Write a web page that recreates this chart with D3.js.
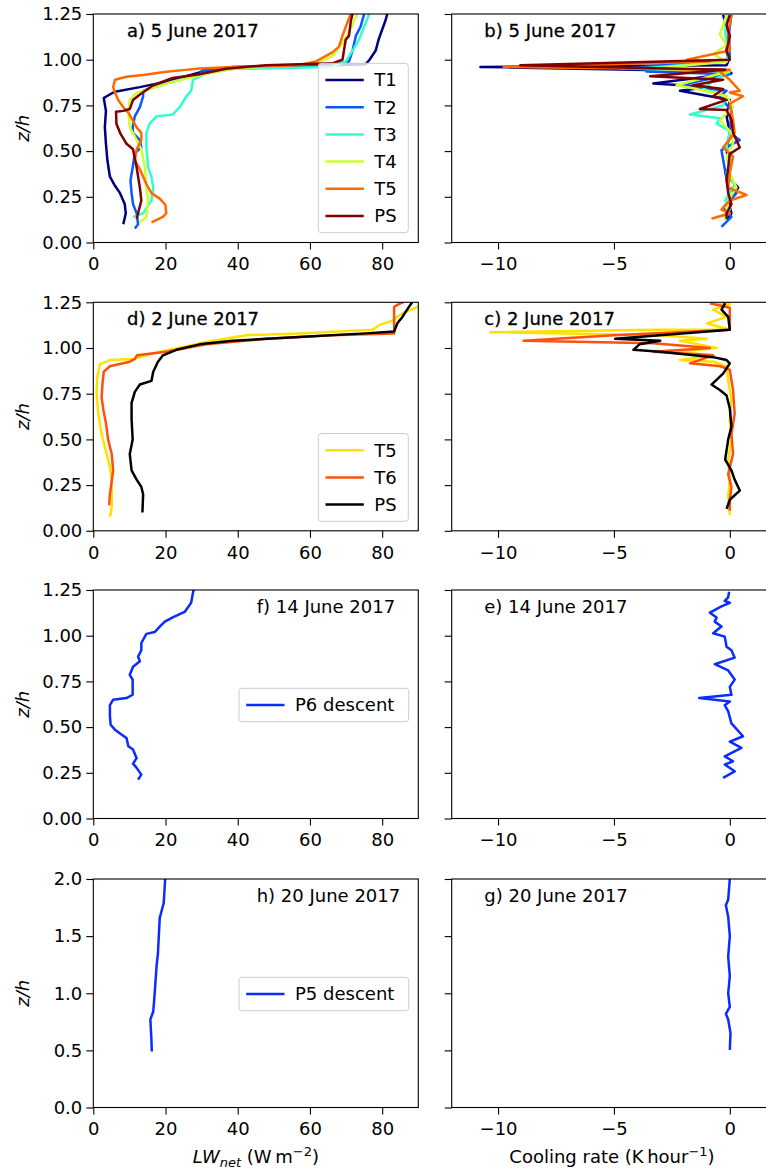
<!DOCTYPE html>
<html>
<head>
<meta charset="utf-8">
<script src="https://cdn.jsdelivr.net/npm/d3@7"></script>
<style>
  body { margin: 0; background: #fff; }
  svg { display: block; }
  text { font-family: "DejaVu Sans", sans-serif; fill: #000; }
</style>
</head>
<body>
<div id="chart"></div>
<script>
// ---- data: [value, z/h] pairs ----

// a) 5 June 2017, LW net
const lw5_T1 = [[8.3,0.10],[9.0,0.16],[8.7,0.21],[7.4,0.27],[6.0,0.31],[4.6,0.36],[3.9,0.45],[3.5,0.54],[3.2,0.63],[3.5,0.72],[2.9,0.79],[3.7,0.80],[6.0,0.825],[12.9,0.85],[20.2,0.88],[29.4,0.93],[30.4,0.94],[38.6,0.96],[60,0.965],[75.4,0.975],[76.5,1.0],[78.2,1.05],[79,1.11],[81,1.22],[81.4,1.25]];
const lw5_T2 = [[11.5,0.077],[12.4,0.10],[12,0.16],[11,0.21],[10.6,0.27],[10.3,0.34],[10.9,0.41],[11.5,0.49],[13.3,0.52],[12.9,0.56],[11,0.60],[10.9,0.63],[11.5,0.69],[12.9,0.74],[13.8,0.80],[13.8,0.83],[20,0.87],[29.4,0.92],[30.4,0.94],[38.6,0.95],[66,0.97],[70.8,0.99],[71.8,1.05],[72.7,1.13],[74,1.18],[75,1.25]];
const lw5_T3 = [[11,0.14],[13.8,0.16],[16.1,0.23],[16.6,0.30],[16.1,0.36],[15.2,0.41],[14.7,0.52],[14.7,0.60],[15.6,0.65],[17.5,0.69],[22,0.70],[23.9,0.74],[25.8,0.80],[27.1,0.83],[27.6,0.89],[31.3,0.925],[38.6,0.95],[66,0.96],[69.9,0.99],[71.8,1.05],[73.6,1.11],[75,1.18],[76.4,1.25]];
const lw5_T4 = [[12.9,0.11],[14.7,0.14],[15.2,0.23],[14.7,0.30],[14.3,0.41],[13.3,0.51],[11.5,0.58],[10.1,0.63],[9.7,0.72],[10.1,0.78],[12,0.82],[15.6,0.84],[22,0.88],[33,0.93],[38.6,0.95],[61.6,0.98],[66.2,1.02],[69,1.09],[70.8,1.15],[73.1,1.25]];
const lw5_T5 = [[16.1,0.11],[19.3,0.14],[20.2,0.16],[20,0.205],[18.4,0.24],[16.1,0.27],[14.7,0.32],[12.9,0.40],[11.5,0.45],[12,0.51],[13.3,0.56],[13.3,0.60],[12,0.63],[9.7,0.71],[8.3,0.74],[6.9,0.78],[6,0.82],[5.5,0.85],[6,0.89],[9.2,0.907],[13.8,0.916],[20.2,0.934],[24.8,0.943],[29.4,0.952],[38.6,0.96],[57,0.97],[61.6,0.99],[66.2,1.04],[68,1.07],[69,1.13],[69.9,1.18],[71.3,1.25]];
const lw5_PS = [[12,0.13],[12.4,0.16],[13.3,0.23],[12.9,0.30],[12,0.41],[11,0.51],[9.2,0.54],[7.4,0.60],[6.4,0.65],[6.3,0.715],[8.3,0.72],[10.1,0.73],[11,0.78],[12.9,0.81],[16.6,0.86],[22,0.90],[29.4,0.92],[36.8,0.95],[47.8,0.97],[66.2,0.98],[69,1.0],[69.9,1.11],[70.8,1.13],[71.3,1.21],[71.8,1.25]];

// b) 5 June 2017, cooling rate
const cr5_T1 = [[-0.29,1.245],[-0.07,1.15],[-0.14,1.05],[-0.07,0.99],[-0.14,0.97],[-10.76,0.96],[0,0.935],[0.07,0.925],[-3.3,0.87],[-0.86,0.85],[-2.15,0.83],[-0.86,0.80],[0,0.78],[-0.14,0.69],[0,0.60],[-0.14,0.505],[0,0.41],[-0.2,0.38],[0.36,0.30],[-0.07,0.23],[0.07,0.16],[-0.14,0.12]];
const cr5_T2 = [[0.07,1.245],[-0.03,1.15],[0,1.0],[-4.7,0.95],[-0.3,0.945],[-3.6,0.935],[0,0.92],[-2.15,0.86],[-0.14,0.83],[-0.43,0.80],[0.07,0.72],[0,0.60],[0.43,0.56],[-0.36,0.505],[-0.2,0.39],[-0.07,0.30],[0.29,0.27],[-0.29,0.19],[0.07,0.14],[-0.36,0.086]];
const cr5_T3 = [[-0.14,1.245],[-0.2,1.15],[-0.07,1.05],[-0.14,0.99],[-4.0,0.95],[0,0.935],[-0.7,0.89],[-1.15,0.84],[-0.14,0.80],[-0.29,0.75],[-1.72,0.70],[-0.43,0.68],[-0.57,0.65],[0,0.61],[-0.14,0.52],[0.14,0.47],[-0.14,0.38],[0.21,0.32],[-0.2,0.23],[0,0.18],[-0.29,0.14]];
const cr5_T4 = [[-0.14,1.245],[-0.43,1.14],[-0.14,1.08],[-0.72,1.03],[-0.14,0.99],[-3.3,0.95],[-0.07,0.935],[-2.3,0.86],[-1.43,0.84],[-0.14,0.80],[0.14,0.74],[-0.43,0.67],[0.07,0.60],[0.14,0.54],[-0.14,0.47],[0,0.38],[0.29,0.30],[-0.07,0.23],[-0.14,0.16],[-0.2,0.12]];
const cr5_T5 = [[0.07,1.245],[-0.07,1.15],[0,1.05],[-1.86,1.0],[-0.86,0.99],[-9.76,0.96],[0,0.945],[-0.43,0.935],[0,0.89],[0.43,0.83],[0,0.82],[0.57,0.80],[0,0.76],[0.14,0.67],[0.21,0.60],[-0.29,0.52],[0.14,0.47],[0,0.38],[-0.07,0.30],[0.72,0.26],[0,0.23],[-0.36,0.18],[0,0.16],[-0.79,0.13]];
const cr5_PS = [[0,1.245],[-0.14,1.19],[0,1.13],[-0.14,1.05],[0,1.0],[-9.04,0.97],[-0.2,0.945],[-3.44,0.91],[-0.29,0.89],[-1.58,0.86],[-0.29,0.84],[-0.72,0.80],[-0.14,0.78],[-1.29,0.73],[-0.14,0.725],[0.07,0.67],[0.14,0.60],[0.43,0.52],[0,0.485],[-0.07,0.41],[-0.14,0.34],[-0.07,0.27],[0.07,0.21],[-0.14,0.16],[-0.14,0.13]];

// d) 2 June 2017, LW net
const lw2_T5 = [[4.6,0.077],[5.1,0.13],[5.1,0.28],[4.6,0.35],[3.7,0.42],[2.3,0.53],[1.4,0.64],[0.9,0.75],[1.1,0.84],[1.8,0.91],[4.6,0.934],[11,0.94],[18.4,0.98],[25.8,1.01],[33.1,1.04],[42.3,1.07],[57,1.08],[77.3,1.10],[79.1,1.125],[82.8,1.15],[85.6,1.19],[89.2,1.22],[91,1.23]];
const lw2_T6 = [[4.4,0.14],[4.6,0.20],[5.5,0.33],[5.1,0.42],[4.1,0.50],[3.5,0.59],[2.8,0.66],[2.3,0.73],[2.6,0.82],[2.9,0.87],[4.6,0.90],[10.1,0.925],[11.5,0.94],[12.1,0.96],[20.2,0.98],[31.3,1.02],[47.8,1.05],[66.2,1.07],[83.3,1.08],[83.3,1.225],[84.6,1.24],[85.8,1.25]];
const lw2_PS = [[13.6,0.10],[13.8,0.20],[13.3,0.24],[12,0.28],[10.6,0.33],[10.1,0.42],[10.9,0.50],[10.6,0.61],[10.6,0.70],[11.5,0.76],[12.9,0.80],[16.1,0.82],[16.6,0.87],[17.9,0.925],[19.3,0.96],[23,0.99],[29.4,1.02],[38.6,1.04],[57,1.06],[75.4,1.08],[83.3,1.09],[84.2,1.135],[85.6,1.17],[87.4,1.225],[88.3,1.25]];

// c) 2 June 2017, cooling rate
const cr2_T5 = [[-0.57,1.245],[0,1.24],[-0.72,1.21],[-0.14,1.17],[-1.0,1.135],[0,1.10],[-3.3,1.10],[-10.33,1.086],[-3.0,1.07],[-1.0,1.05],[-2.15,1.04],[-0.57,1.0],[-2.3,0.98],[-0.72,0.96],[-2.15,0.934],[-0.72,0.925],[-0.14,0.90],[-0.07,0.82],[0.07,0.72],[0,0.61],[0.07,0.50],[-0.07,0.39],[0,0.28],[-0.07,0.19],[0,0.086]];
const cr2_T6 = [[-0.86,1.245],[0,1.22],[0,1.10],[-5.0,1.07],[-8.9,1.04],[-3.3,1.026],[-0.86,1.0],[-3.3,0.98],[-0.72,0.96],[-1.72,0.916],[-0.4,0.90],[0,0.88],[0.14,0.77],[0.21,0.64],[0.07,0.53],[0.14,0.42],[-0.07,0.31],[0.07,0.24],[0,0.17],[0,0.11]];
const cr2_PS = [[-0.2,1.245],[-0.36,1.21],[-0.07,1.17],[0,1.10],[-4.95,1.05],[-3.0,1.04],[-3.9,1.02],[-4.16,0.99],[-3.0,0.98],[-0.72,0.95],[-0.14,0.934],[0,0.916],[-0.29,0.86],[-0.79,0.80],[-0.43,0.77],[-0.14,0.74],[0,0.67],[0.07,0.57],[-0.07,0.50],[-0.2,0.39],[0.07,0.33],[0.21,0.28],[0.43,0.22],[0,0.17],[-0.14,0.12]];

// f) / e) 14 June 2017
const lw14_P6 = [[12.4,0.213],[13.3,0.24],[12,0.277],[11,0.30],[12,0.33],[11,0.377],[9.7,0.395],[9.2,0.44],[7.8,0.46],[6,0.486],[4.8,0.513],[4.6,0.56],[4.6,0.62],[5.5,0.65],[9.2,0.659],[10.9,0.677],[10.9,0.76],[10.1,0.786],[11,0.83],[12.9,0.86],[12.4,0.886],[13.3,0.92],[13.3,0.96],[14.7,1.01],[17,1.02],[18.4,1.05],[19.8,1.077],[22,1.10],[25.3,1.13],[27.1,1.18],[27.6,1.235],[27.8,1.25]];
const cr14_P6 = [[-0.03,1.24],[-0.07,1.21],[-0.22,1.19],[0,1.18],[-0.36,1.16],[-0.86,1.126],[-0.57,1.10],[-0.65,1.077],[-0.36,1.05],[-0.72,1.013],[-0.22,0.995],[-0.14,0.94],[0.07,0.92],[0.21,0.88],[-0.65,0.844],[-0.07,0.81],[0.21,0.76],[0,0.72],[0.07,0.677],[-1.32,0.659],[0,0.64],[-0.22,0.62],[-0.07,0.586],[0.07,0.52],[0.57,0.45],[0,0.42],[0.5,0.386],[-0.22,0.34],[0.14,0.313],[-0.22,0.295],[0.21,0.258],[-0.29,0.222]];

// h) / g) 20 June 2017
const lw20_P5 = [[16.2,0.49],[16.1,0.59],[15.8,0.77],[16.6,0.84],[17,1.0],[17.5,1.23],[17.9,1.35],[18.4,1.66],[19.5,1.79],[19.9,2.0]];
const cr20_P5 = [[0,0.504],[0.03,0.65],[-0.07,0.77],[-0.17,0.82],[0,0.88],[-0.07,1.0],[0,1.15],[-0.07,1.32],[0,1.5],[-0.07,1.67],[-0.17,1.77],[-0.07,1.82],[0,2.0]];

// tick values
const lwTicks = [0, 20, 40, 60, 80];
const crTicks = [-10, -5, 0];
const zTicks = [0, 0.25, 0.5, 0.75, 1.0, 1.25];
const zTicks2 = [0, 0.5, 1.0, 1.5, 2.0];

// colours
const jet = { T1: "#00007f", T2: "#0a56ff", T3: "#2fffcc", T4: "#ccff2f", T5: "#ff6a00", PS: "#7f0000" };
const hot = { T5: "#ffe100", T6: "#ff5012", PS: "#000000" };
const blue = "#0a2cff";

// ---- layout ----
const W = 766, H = 1172;
const rowTop = [14, 302.3, 590, 879];
const PH = 228.5;
const xL = d3.scaleLinear().domain([0, 90]).range([93.3, 418.3]);
const xR = d3.scaleLinear().domain([-12, 1.6]).range([451.7, 766.9]);

const panels = [
  { row: 0, x: xL, ticks: lwTicks, zmax: 1.25, zt: zTicks, title: "a) 5 June 2017", tx: 127, heavy: true,
    series: [["T1", lw5_T1, jet.T1], ["T2", lw5_T2, jet.T2], ["T3", lw5_T3, jet.T3], ["T4", lw5_T4, jet.T4], ["T5", lw5_T5, jet.T5], ["PS", lw5_PS, jet.PS]],
    legend: { x: 318.3, y: 63.3, w: 90 } },
  { row: 0, x: xR, ticks: crTicks, zmax: 1.25, zt: zTicks, title: "b) 5 June 2017", tx: 484.3, heavy: true,
    series: [["T1", cr5_T1, jet.T1], ["T2", cr5_T2, jet.T2], ["T3", cr5_T3, jet.T3], ["T4", cr5_T4, jet.T4], ["T5", cr5_T5, jet.T5], ["PS", cr5_PS, jet.PS]] },
  { row: 1, x: xL, ticks: lwTicks, zmax: 1.25, zt: zTicks, title: "d) 2 June 2017", tx: 127, heavy: true,
    series: [["T5", lw2_T5, hot.T5], ["T6", lw2_T6, hot.T6], ["PS", lw2_PS, hot.PS]],
    legend: { x: 318.3, y: 433.5, w: 90 } },
  { row: 1, x: xR, ticks: crTicks, zmax: 1.25, zt: zTicks, title: "c) 2 June 2017", tx: 484.3, heavy: true,
    series: [["T5", cr2_T5, hot.T5], ["T6", cr2_T6, hot.T6], ["PS", cr2_PS, hot.PS]] },
  { row: 2, x: xL, ticks: lwTicks, zmax: 1.25, zt: zTicks, title: "f) 14 June 2017", tx: 256.7,
    series: [["P6 descent", lw14_P6, blue]],
    legend: { x: 239, y: 688.3, w: 169.7 } },
  { row: 2, x: xR, ticks: crTicks, zmax: 1.25, zt: zTicks, title: "e) 14 June 2017", tx: 484.3,
    series: [["P6 descent", cr14_P6, blue]] },
  { row: 3, x: xL, ticks: lwTicks, zmax: 2.0, zt: zTicks2, title: "h) 20 June 2017", tx: 256.7, fmt: ".1f",
    series: [["P5 descent", lw20_P5, blue]],
    legend: { x: 239, y: 977.3, w: 169.7 } },
  { row: 3, x: xR, ticks: crTicks, zmax: 2.0, zt: zTicks2, title: "g) 20 June 2017", tx: 484.3,
    series: [["P5 descent", cr20_P5, blue]] }
];

const svg = d3.select("#chart").append("svg")
  .attr("width", W).attr("height", H)
  .style("background", "#fff");

panels.forEach((p, i) => {
  const top = rowTop[p.row];
  const x = p.x;
  const y = d3.scaleLinear().domain([0, p.zmax]).range([top + PH, top]);
  const [x0, x1] = x.range();
  const left = x === xL;

  const g = svg.append("g");

  // clip to axes
  const clipId = "clip" + i;
  svg.append("clipPath").attr("id", clipId)
    .append("rect").attr("x", x0).attr("y", top).attr("width", x1 - x0).attr("height", PH);

  const line = d3.line().x(d => x(d[0])).y(d => y(d[1]));
  g.append("g").attr("clip-path", `url(#${clipId})`)
    .selectAll("path")
    .data(p.series)
    .enter()
    .append("path")
    .attr("d", d => line(d[1]))
    .attr("fill", "none")
    .attr("stroke", d => d[2])
    .attr("stroke-width", 2.5)
    .attr("stroke-linejoin", "round");

  // axes
  const xa = g.append("g").attr("transform", `translate(0,${top + PH})`)
    .call(d3.axisBottom(x).tickValues(p.ticks).tickSize(7).tickPadding(8).tickSizeOuter(0));
  const ya = g.append("g").attr("transform", `translate(${x0},0)`)
    .call(d3.axisLeft(y).tickValues(p.zt).tickSize(7).tickPadding(4).tickSizeOuter(0)
      .tickFormat(left ? d3.format(p.fmt || ".2f") : () => ""));
  [xa, ya].forEach(a => {
    a.select(".domain").remove();
    a.selectAll(".tick line").attr("stroke", "#000").attr("stroke-width", 1.1);
    a.selectAll(".tick text").style("font-size", "18px").style("font-family", "DejaVu Sans").attr("fill", "#000");
  });

  // frame
  g.append("rect")
    .attr("x", x0).attr("y", top).attr("width", x1 - x0).attr("height", PH)
    .attr("fill", "none").attr("stroke", "#000").attr("stroke-width", 1.1);

  // panel title
  const t = g.append("text")
    .attr("x", p.tx).attr("y", top + 22.8)
    .style("font-size", "18px")
    .text(p.title);
  if (p.heavy) t.attr("stroke", "#000").attr("stroke-width", 0.3);

  // legend
  if (p.legend) {
    const L = p.legend, n = p.series.length, step = 27.2;
    const lg = g.append("g");
    lg.append("rect")
      .attr("x", L.x).attr("y", L.y).attr("width", L.w).attr("height", 33.4 + (n - 1) * step)
      .attr("rx", 3).attr("fill", "#fff").attr("fill-opacity", 0.8)
      .attr("stroke", "#cccccc").attr("stroke-width", 1);
    p.series.forEach((s, k) => {
      const cy = L.y + 16.7 + k * step;
      lg.append("line")
        .attr("x1", L.x + 7.2).attr("x2", L.x + 45.5).attr("y1", cy).attr("y2", cy)
        .attr("stroke", s[2]).attr("stroke-width", 2.5);
      lg.append("text")
        .attr("x", L.x + 56).attr("y", cy).attr("dy", "0.36em")
        .style("font-size", "18px")
        .text(s[0]);
    });
  }

  // y label on left panels
  if (left) {
    g.append("text")
      .attr("transform", `translate(29,${top + PH / 2}) rotate(-90)`)
      .attr("text-anchor", "middle")
      .style("font-size", "18px").style("font-style", "italic")
      .text("z/h");
  }
});

// x labels
const xl = svg.append("text")
  .attr("x", 255.8).attr("y", 1163).attr("text-anchor", "middle")
  .style("font-size", "18px");
xl.append("tspan").style("font-style", "italic").text("LW");
xl.append("tspan").style("font-style", "italic").style("font-size", "13px").attr("dy", 4).text("net");
xl.append("tspan").attr("dy", -4).text(" (W\u2009m");
xl.append("tspan").style("font-size", "13px").attr("dy", -7).text("\u22122");
xl.append("tspan").attr("dy", 7).text(")");

const xr = svg.append("text")
  .attr("x", 612).attr("y", 1163).attr("text-anchor", "middle")
  .style("font-size", "18px");
xr.append("tspan").text("Cooling rate (K\u2009hour");
xr.append("tspan").style("font-size", "13px").attr("dy", -7).text("\u22121");
xr.append("tspan").attr("dy", 7).text(")");
</script>
</body>
</html>
